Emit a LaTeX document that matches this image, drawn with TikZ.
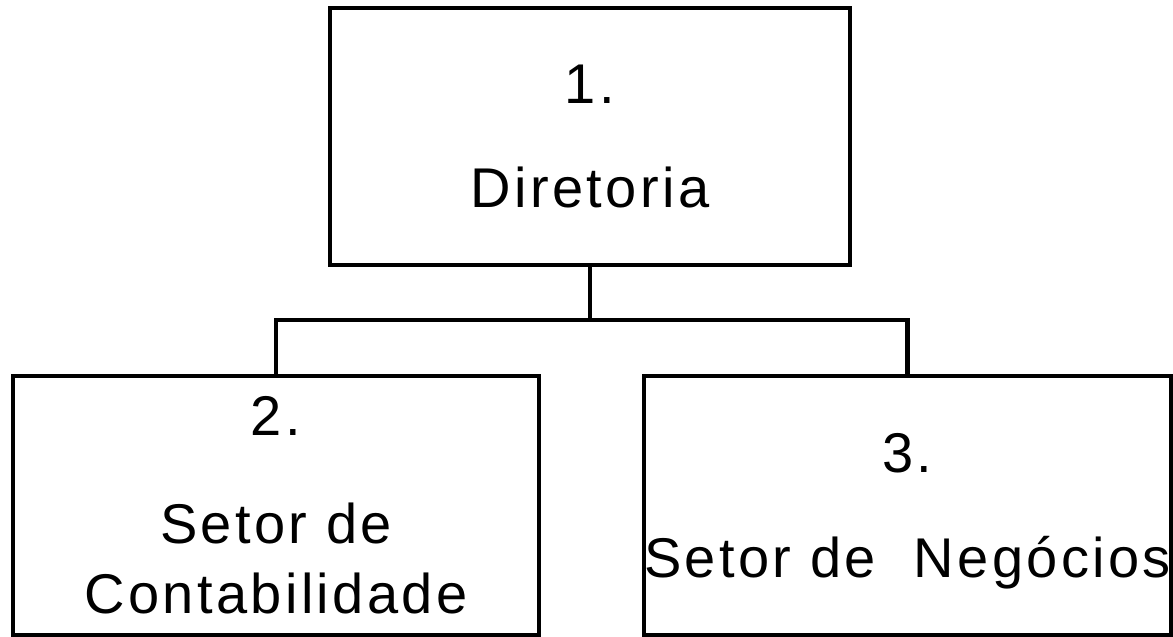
\documentclass[tikz,border=0pt]{standalone}
\usepackage{fontspec}
\setmainfont{Liberation Sans}[LetterSpace=6]
\usepackage{tikz}

\tikzset{
  setorbox/.style={draw, line width=4.5pt, inner sep=0pt, align=center,
    font=\fontsize{56}{70}\selectfont},
  linha/.style={line width=4.5pt}
}

\begin{document}
\begin{tikzpicture}[x=1pt, y=-1pt]
                \useasboundingbox (0,0) rectangle (1173,637);

                \node[setorbox, minimum width=520pt, minimum height=257pt] (dir) at (590,136.5)
                  {1.\\[34pt]Diretoria};
                \node[setorbox, minimum width=526pt, minimum height=259pt] (cont) at (276,505.5)
                  {2.\\[38pt]Setor de\\Contabilidade};
                \node[setorbox, minimum width=522pt, minimum height=259pt] (neg) at (907.5,505.5)
                  {3.\\[35pt]\raisebox{0pt}[\height][0pt]{Setor de\ \ Negócios}};

                \coordinate (bus) at (dir.south |- 0,320);

                \draw[linha] (dir.south) -- (bus);
                \draw[linha] (cont.north) |- (bus) -| (neg.north);
            \end{tikzpicture}
\end{document}
